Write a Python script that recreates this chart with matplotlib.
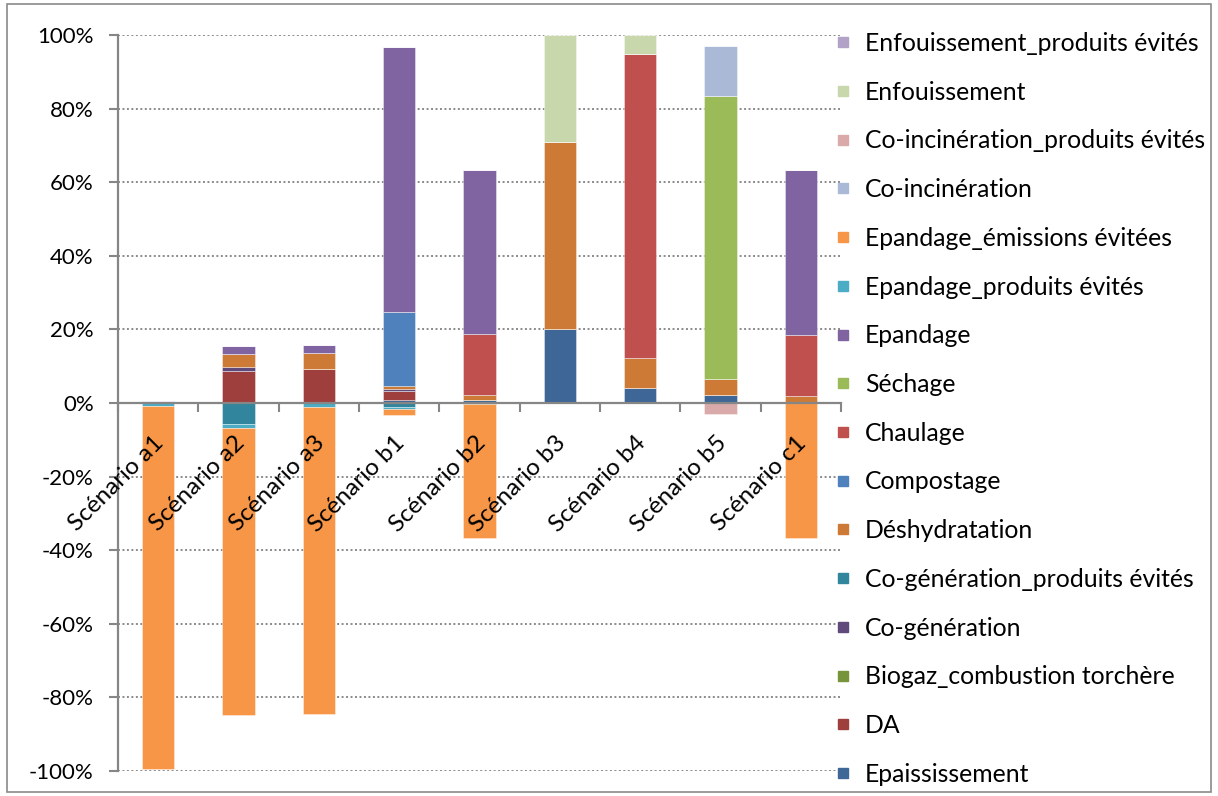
import matplotlib
matplotlib.use("Agg")
import matplotlib.pyplot as plt
from matplotlib.lines import Line2D
from matplotlib.patches import Rectangle
from matplotlib.ticker import FixedLocator, FuncFormatter, NullFormatter
from matplotlib.transforms import ScaledTranslation
import numpy as np

plt.rcParams['font.family'] = ['Lato', 'DejaVu Sans']

categories = ['Scénario a1', 'Scénario a2', 'Scénario a3', 'Scénario b1', 'Scénario b2',
              'Scénario b3', 'Scénario b4', 'Scénario b5', 'Scénario c1']

# contributions in % (stack order = series order)
epaississement = [0, 0, 0, 0.8, 0.8, 20.0, 4.1, 2.2, 0.3]
da = [0, 8.6, 9.2, 2.4, 0, 0, 0, 0, 0]
biogaz_torchere = [0, 0, 0, 0, 0, 0, 0, 0, 0]
cogeneration = [0, 1.1, 0, 0.5, 0, 0, 0, 0, 0]
cogeneration_evites = [0, -5.7, 0, -1.2, 0, 0, 0, 0, 0]
deshydratation = [0, 3.7, 4.4, 0.9, 1.45, 50.8, 8.2, 4.4, 1.6]
compostage = [0, 0, 0, 20.1, 0, 0, 0, 0, 0]
chaulage = [0, 0, 0, 0, 16.4, 0, 82.6, 0, 16.6]
sechage = [0, 0, 0, 0, 0, 0, 0, 76.7, 0]
epandage = [0.6, 2.0, 2.1, 72.1, 44.7, 0, 0, 0, 44.9]
epandage_evites = [-0.8, -1.1, -1.2, -0.3, -0.2, 0, 0, 0, 0]
epandage_emissions = [-98.6, -78.0, -83.4, -1.7, -36.5, 0, 0, 0, -36.7]
coincineration = [0, 0, 0, 0, 0, 0, 0, 13.6, 0]
coincineration_evites = [0, 0, 0, 0, 0, 0, 0, -3.0, 0]
enfouissement = [0, 0, 0, 0, 0, 29.2, 5.2, 0, 0]
enfouissement_evites = [0, 0, 0, 0, 0, 0, 0, 0, 0]

series = [
    ('Epaississement', epaississement, '#3E6697'),
    ('DA', da, '#9E3F3E'),
    ('Biogaz_combustion torchère', biogaz_torchere, '#77933C'),
    ('Co-génération', cogeneration, '#604A7B'),
    ('Co-génération_produits évités', cogeneration_evites, '#31859C'),
    ('Déshydratation', deshydratation, '#CC7A36'),
    ('Compostage', compostage, '#4F81BD'),
    ('Chaulage', chaulage, '#C0504D'),
    ('Séchage', sechage, '#9BBB59'),
    ('Epandage', epandage, '#8064A2'),
    ('Epandage_produits évités', epandage_evites, '#4BACC6'),
    ('Epandage_émissions évitées', epandage_emissions, '#F79646'),
    ('Co-incinération', coincineration, '#AAB9D6'),
    ('Co-incinération_produits évités', coincineration_evites, '#DAA9A9'),
    ('Enfouissement', enfouissement, '#C8D7AC'),
    ('Enfouissement_produits évités', enfouissement_evites, '#B3A2C7'),
]

W, H = 1218, 796
fig = plt.figure(figsize=(W / 100, H / 100), dpi=100)
ax = fig.add_axes([118 / W, 25 / H, 723 / W, 736 / H])

x = np.arange(len(categories))
pos_base = np.zeros(len(categories))
neg_base = np.zeros(len(categories))
for name, vals, col in series:
    v = np.array(vals, dtype=float)
    bottom = np.where(v >= 0, pos_base, neg_base)
    ax.bar(x, v, width=0.4, bottom=bottom, color=col,
           edgecolor=(1, 1, 1, 0.45), linewidth=0.6, zorder=2)
    pos_base += np.where(v > 0, v, 0)
    neg_base += np.where(v < 0, v, 0)

axis_grey = '#868686'
ax.set_xlim(-0.5, len(categories) - 0.5)
ax.set_ylim(-100, 100)

ax.yaxis.set_major_locator(FixedLocator(np.arange(-100, 101, 20)))
ax.yaxis.set_major_formatter(FuncFormatter(lambda v, p: f"{v:.0f}%"))
ax.tick_params(axis='y', length=6.5, width=1.5, color=axis_grey, pad=11,
               labelsize=16, labelcolor='black')
for yv in np.arange(-100, 101, 20):
    if yv != 0:
        ax.axhline(yv, color='#8a8a8a', lw=1.4, ls=(0, (1, 1.3)), zorder=1)

for side in ('top', 'right'):
    ax.spines[side].set_visible(False)
ax.spines['left'].set_color(axis_grey)
ax.spines['left'].set_linewidth(1.6)
ax.spines['bottom'].set_position(('data', 0))
ax.spines['bottom'].set_color(axis_grey)
ax.spines['bottom'].set_linewidth(1.6)
ax.spines['bottom'].set_zorder(3)

ax.xaxis.set_major_locator(FixedLocator(np.arange(-0.5, len(categories), 1.0)))
ax.xaxis.set_major_formatter(NullFormatter())
ax.tick_params(axis='x', length=6.5, width=1.5, color=axis_grey, direction='out')

offset = ScaledTranslation(-5 / 100, -29 / 100, fig.dpi_scale_trans)
for xi, lab in zip(x, categories):
    ax.text(xi, 0, lab, transform=ax.transData + offset, rotation=45,
            rotation_mode='anchor', ha='right', va='top', fontsize=17.5, zorder=4)

handles = [Line2D([], [], marker='s', markersize=7.5, linestyle='none',
                  markerfacecolor=col, markeredgecolor=col)
           for _, _, col in series][::-1]
labels = [name for name, _, _ in series][::-1]
fig.legend(handles, labels, loc='upper left',
           bbox_to_anchor=(836 / W, 1 - 32 / H), frameon=False, fontsize=17.8,
           handlelength=0.6, handletextpad=0.58, labelspacing=1.04,
           borderpad=0, borderaxespad=0)

fig.add_artist(Rectangle((7 / W, 4 / H), 1204 / W, 788 / H, transform=fig.transFigure,
                         fill=False, edgecolor='#8a8a8a', linewidth=1.2))

fig.savefig('out.png', dpi=100)
